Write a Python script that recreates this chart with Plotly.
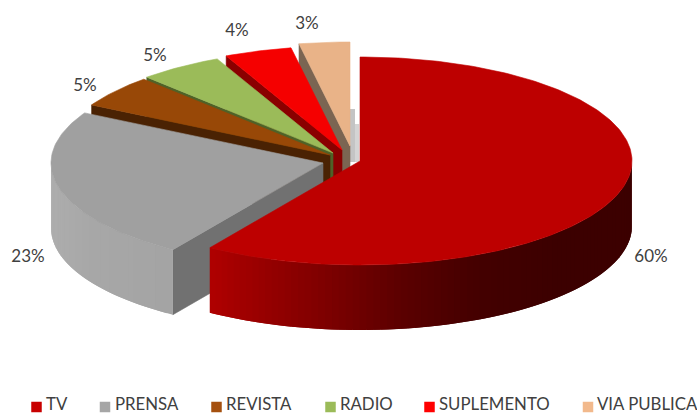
import math
import numpy as np
import plotly.graph_objects as go

categories = ["TV", "PRENSA", "REVISTA", "RADIO", "SUPLEMENTO", "VIA PUBLICA"]
values = [60, 23, 5, 5, 4, 3]
top_colors = ["#bd0000", "#a0a0a0", "#984807", "#9bbb59", "#f50000", "#e9b388"]
cut_colors = ["#800000", "#717171", "#4a2203", "#4f6228", "#8a0000", "#7b6552"]
legend_colors = ["#c80000", "#a6a6a6", "#a5500f", "#9bbb59", "#ff0000", "#f2b98c"]

# drawing geometry, in the page's pixel space
RX, RY, DEPTH = 272, 104, 65
CENTERS = [(360, 161), (323, 163), (330, 155), (333, 153), (342, 150), (350, 146)]
LABEL_POS = [(651, 258), (28, 258), (85, 87), (155, 57), (237, 32), (307, 25)]
SWATCH_X = [36.5, 105, 216.5, 330.5, 429.5, 588]
TEXT_X = [46, 115, 226, 340, 439, 597]
LEGEND_Y = 406
SIDE_STOPS = {
    0: [(210, "#b00000"), (260, "#990000"), (330, "#7c0000"), (400, "#5c0000"),
        (480, "#440000"), (560, "#3c0000"), (632, "#3c0000")],
    1: [(50, "#aeaeae"), (90, "#a8a8a8"), (175, "#a4a4a4")],
}
BACK_BARS = [(350, 355, 109, 162, "#c4c4c4"), (355, 359, 124, 162, "#d4d4d4")]
# the reference's pie is seen in perspective: true angle -> drawn angle
WARP_IN = [0, 90, 216, 270, 360]
WARP_OUT = [0, 90, 213.5, 270, 360]


def hex_rgb(c):
    return tuple(int(c[i:i + 2], 16) for i in (1, 3, 5))


def color_at(stops, x):
    if x <= stops[0][0]:
        return stops[0][1]
    for (x0, c0), (x1, c1) in zip(stops, stops[1:]):
        if x <= x1:
            f = (x - x0) / (x1 - x0)
            a, b = hex_rgb(c0), hex_rgb(c1)
            return "rgb(%d,%d,%d)" % tuple(a[i] + (b[i] - a[i]) * f for i in range(3))
    return stops[-1][1]


def rim(cx, cy, deg):
    t = math.radians(float(np.interp(deg, WARP_IN, WARP_OUT)))
    return cx + RX * math.sin(t), cy - RY * math.cos(t)


def poly(fig, pts, color, name, line=0.6):
    xs = [p[0] for p in pts] + [pts[0][0]]
    ys = [p[1] for p in pts] + [pts[0][1]]
    fig.add_trace(go.Scatter(x=xs, y=ys, mode="lines", fill="toself", fillcolor=color,
                             line=dict(color=color, width=line), name=name,
                             hoverinfo="skip", showlegend=False))


fig = go.Figure()

for x0, x1, y0, y1, col in BACK_BARS:
    fig.add_shape(type="rect", x0=x0, x1=x1, y0=y0, y1=y1, fillcolor=col, line_width=0, layer="below")

total = sum(values)
angles = [0]
for v in values:
    angles.append(angles[-1] + 360 * v / total)

for i in reversed(range(len(values))):
    a0, a1 = angles[i], angles[i + 1]
    cx, cy = CENTERS[i]
    name = categories[i]
    if i > 0:  # cut face on the clockwise-start edge
        rx0, ry0 = rim(cx, cy, a0)
        poly(fig, [(cx, cy), (rx0, ry0), (rx0, ry0 + DEPTH), (cx, cy + DEPTH)], cut_colors[i], name)
    if i in SIDE_STOPS:  # outer wall, split in strips for its shading
        lo, hi = max(a0, 90), min(a1, 270)
        n = int((hi - lo) / 1.5) + 1
        step = (hi - lo) / n
        for k in range(n):
            d0 = lo + step * k
            d1 = min(d0 + 2 * step, hi)
            mid = rim(cx, cy, d0 + step / 2)
            pts = [rim(cx, cy, d0), rim(cx, cy, d0 + step), rim(cx, cy, d1)]
            low = [(p[0], p[1] + DEPTH) for p in reversed(pts)]
            poly(fig, pts + low, color_at(SIDE_STOPS[i], mid[0]), name, line=0)
    n = max(int(a1 - a0), 4)
    arc = [rim(cx, cy, a0 + (a1 - a0) * k / n) for k in range(n + 1)]
    poly(fig, [(cx, cy)] + arc, top_colors[i], name)

fig.add_trace(go.Scatter(
    x=[p[0] for p in LABEL_POS], y=[p[1] for p in LABEL_POS],
    text=[f"{v}%" for v in values], mode="text",
    textfont=dict(family="Lato", size=17, color="#404040"),
    hoverinfo="skip", showlegend=False))

fig.add_trace(go.Scatter(
    x=SWATCH_X, y=[LEGEND_Y + 1] * len(SWATCH_X), mode="markers",
    marker=dict(symbol="square", size=10.5, color=legend_colors),
    hoverinfo="skip", showlegend=False, cliponaxis=False))
fig.add_trace(go.Scatter(
    x=TEXT_X, y=[LEGEND_Y] * len(TEXT_X), text=categories, mode="text",
    textposition="middle right",
    textfont=dict(family="Lato", size=16.8, color="#404040"),
    hoverinfo="skip", showlegend=False, cliponaxis=False))

fig.update_layout(
    width=697, height=414, margin=dict(l=0, r=0, t=0, b=0),
    paper_bgcolor="white", plot_bgcolor="white", showlegend=False,
    xaxis=dict(range=[0, 697], visible=False, fixedrange=True),
    yaxis=dict(range=[414, 0], visible=False, fixedrange=True),
)
fig.write_html("out.html", config={"displayModeBar": False},
               post_script="document.body.style.margin='0';document.documentElement.style.overflow='hidden';")
